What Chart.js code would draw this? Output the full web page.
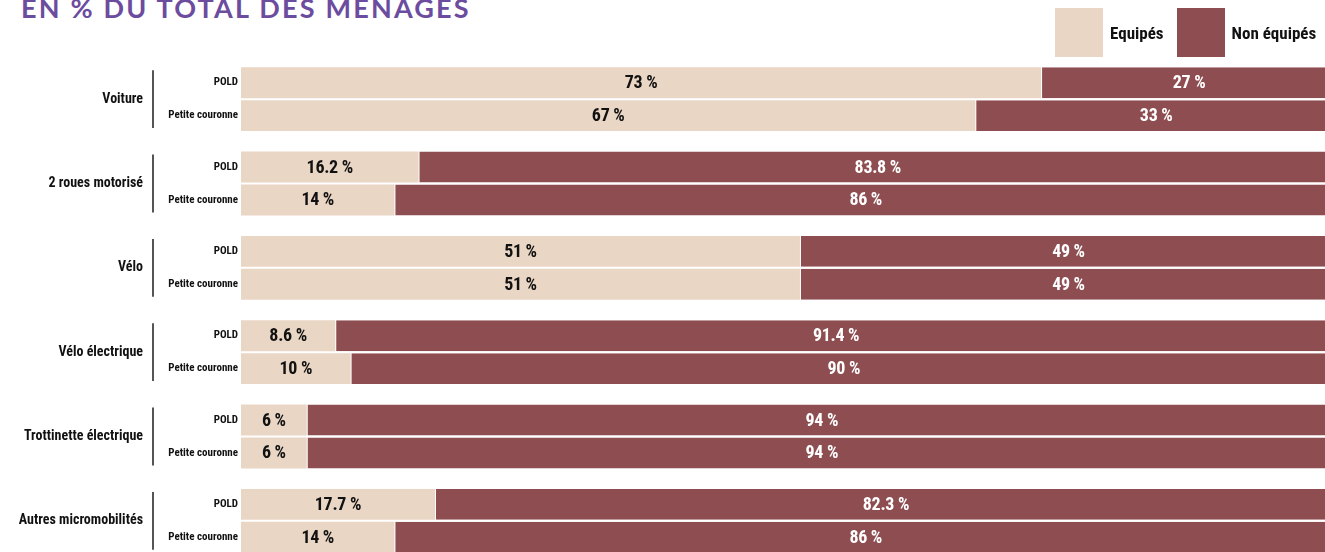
<!DOCTYPE html>
<html lang="fr">
<head>
<meta charset="utf-8">
<title>Équipement des ménages</title>
<script src="https://cdn.jsdelivr.net/npm/chart.js@4/dist/chart.umd.min.js"></script>
<style>
  html, body { margin: 0; padding: 0; overflow: hidden; background: #fff; }
  body { width: 1325px; height: 552px; position: relative; }
  .titre {
    position: absolute; left: 21px; top: -9px;
    font: 700 27px Lato, 'Open Sans', sans-serif; letter-spacing: 2.2px;
    color: #6b4c9e; white-space: nowrap;
  }
  #wrap { position: absolute; left: 0; top: 0; width: 1345px; height: 566px; }
  #legende { position: absolute; left: 1055px; top: 8px; width: 300px; display: flex; align-items: center; }
  #legende .item { display: flex; align-items: center; margin-right: 13px; flex-shrink: 0; }
  #legende .box { width: 48px; height: 49px; margin-right: 7px; }
  #legende span {
    font: 700 17px 'Roboto Condensed', 'Liberation Sans Narrow', Roboto, sans-serif;
    color: #111; white-space: nowrap;
  }
</style>
</head>
<body>
<div class="titre">EN % DU TOTAL DES MENAGES</div>
<div id="wrap"><canvas id="myChart"></canvas></div>
<div id="legende"></div>
<script>
const FONT = "'Roboto Condensed', 'Liberation Sans Narrow', Roboto, sans-serif";

const groupes = ['Voiture', '2 roues motorisé', 'Vélo', 'Vélo électrique', 'Trottinette électrique', 'Autres micromobilités'];
const zones = ['POLD', 'Petite couronne'];
const series = ['Equipés', 'Non équipés'];

const poldEquipes = [73, 16.2, 51, 8.6, 6, 17.7];
const poldNon = [27, 83.8, 49, 91.4, 94, 82.3];
const pcEquipes = [67, 14, 51, 10, 6, 14];
const pcNon = [33, 86, 49, 90, 94, 86];

const beige = '#ead6c4';
const bordeaux = '#8e4e51';

function barre(label, data, color, stack) {
  const non = color === bordeaux;
  return {
    label: label,
    data: data,
    stack: stack,
    backgroundColor: color,
    borderColor: '#fff',
    borderWidth: non ? { left: 1, top: 0, right: 0, bottom: 0 } : 0,
    borderSkipped: false,
    categoryPercentage: 0.781,
    barPercentage: 0.94
  };
}

// valeurs au centre de chaque segment, libellés de groupe et de zone à gauche
const annotations = {
  id: 'annotations',
  afterDatasetsDraw(chart) {
    const ctx = chart.ctx;
    const area = chart.chartArea;
    ctx.save();
    ctx.textBaseline = 'middle';
    chart.data.datasets.forEach((ds, i) => {
      const meta = chart.getDatasetMeta(i);
      meta.data.forEach((el, j) => {
        const v = ds.data[j];
        ctx.font = 'bold 18px ' + FONT;
        ctx.letterSpacing = '-0.3px';
        ctx.textAlign = 'center';
        ctx.fillStyle = ds.backgroundColor === bordeaux ? '#fff' : '#111';
        ctx.fillText(v + ' %', (el.x + el.base) / 2, el.y + 1);
        ctx.letterSpacing = '0px';

        if (ds.backgroundColor === beige) {
          ctx.font = 'bold 11px ' + FONT;
          ctx.textAlign = 'right';
          ctx.fillStyle = '#111';
          ctx.fillText(zones[ds.stack === 'POLD' ? 0 : 1], area.left - 3, el.y);
        }
      });
    });

    // nom du groupe et trait vertical reliant ses deux barres
    const y = chart.scales.y;
    const haut = chart.getDatasetMeta(0).data;
    const bas = chart.getDatasetMeta(2).data;
    ctx.strokeStyle = '#555';
    ctx.lineWidth = 2;
    haut.forEach((el, j) => {
      ctx.font = 'bold 14px ' + FONT;
      ctx.textAlign = 'right';
      ctx.fillStyle = '#111';
      ctx.fillText(groupes[j], 143, y.getPixelForValue(j));

      const y0 = el.y - el.height / 2 + 3;
      const y1 = bas[j].y + bas[j].height / 2 - 3;
      ctx.beginPath();
      ctx.moveTo(153, y0);
      ctx.lineTo(153, y1);
      ctx.stroke();
    });
    ctx.restore();
  }
};

const ctx = document.getElementById('myChart');

const myChart = new Chart(ctx, {
  type: 'bar',
  data: {
    labels: groupes,
    datasets: [
      barre(series[0], poldEquipes, beige, 'POLD'),
      barre(series[1], poldNon, bordeaux, 'POLD'),
      barre(series[0], pcEquipes, beige, 'PC'),
      barre(series[1], pcNon, bordeaux, 'PC')
    ]
  },
  options: {
    indexAxis: 'y',
    responsive: true,
    maintainAspectRatio: false,
    animation: false,
    layout: { padding: { top: 57, bottom: 3, right: 8, left: 0 } },
    plugins: {
      legend: { display: false },
      tooltip: { enabled: false }
    },
    scales: {
      x: {
        stacked: true,
        min: 0,
        max: 100,
        display: false
      },
      y: {
        stacked: true,
        grid: { display: false, drawTicks: false },
        border: { display: false },
        ticks: { display: false },
        afterFit(scale) { scale.width = 241; }
      }
    }
  },
  plugins: [annotations]
});

// légende construite à partir des couleurs des séries
const legende = document.getElementById('legende');
[beige, bordeaux].forEach((c, i) => {
  const item = document.createElement('div');
  item.className = 'item';
  const box = document.createElement('div');
  box.className = 'box';
  box.style.background = c;
  const txt = document.createElement('span');
  txt.textContent = series[i];
  item.appendChild(box);
  item.appendChild(txt);
  legende.appendChild(item);
});
</script>
</body>
</html>
